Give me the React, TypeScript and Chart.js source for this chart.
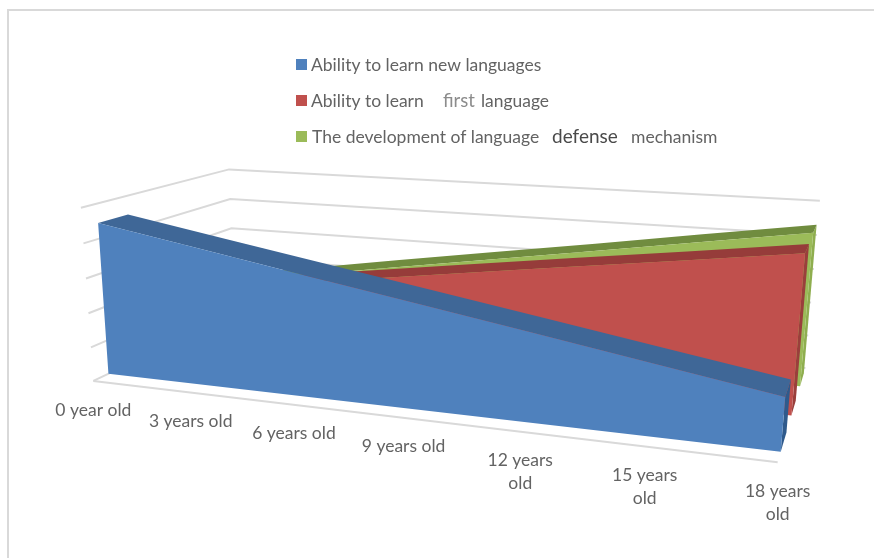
import React, { useEffect, useRef } from "react";
import { Chart, registerables } from "chart.js";

Chart.register(...registerables);

const categories: (string | string[])[] = [
  "0 year old", "3 years old", "6 years old", "9 years old",
  ["12 years", "old"], ["15 years", "old"], ["18 years", "old"],
];
const newLanguages = [4.45, 3.94, 3.43, 2.93, 2.42, 1.91, 1.4];
const firstLanguage = [1.85, 2.27, 2.68, 3.1, 3.52, 3.93, 4.35];
const defenseMechanism = [1.5, 1.98, 2.47, 2.95, 3.43, 3.92, 4.4];
const seriesNames = [
  "Ability to learn new languages",
  "Ability to learn first language",
  "The development of language defense mechanism",
];

const FONT = "Lato, Carlito, 'Open Sans', sans-serif";
const TEXT = "#636363";

// Picture position of the box corners: [u along x, v height, d depth, px, py]
const corners = [
  [0, 0, 0, 92, 379], [0, 1, 0, 82, 209],
  [0, 0, 1, 236, 316], [0, 1, 1, 228, 168],
  [1, 0, 1, 805, 367], [1, 1, 1, 820, 201],
  [1, 0, 0, 778, 463],
];

function solveCamera() {
  const rows: number[][] = [];
  for (const [u, v, d, x, y] of corners) {
    rows.push([u, v, d, 1, 0, 0, 0, 0, -x * u, -x * v, -x * d, x]);
    rows.push([0, 0, 0, 0, u, v, d, 1, -y * u, -y * v, -y * d, y]);
  }
  const n = 11;
  const m = Array.from({ length: n }, (_, i) =>
    Array.from({ length: n + 1 }, (_, j) =>
      rows.reduce((s, r) => s + r[i] * r[j], 0)));
  for (let c = 0; c < n; c++) {
    let p = c;
    for (let r = c + 1; r < n; r++) if (Math.abs(m[r][c]) > Math.abs(m[p][c])) p = r;
    [m[c], m[p]] = [m[p], m[c]];
    for (let r = 0; r < n; r++) {
      if (r === c) continue;
      const f = m[r][c] / m[c][c];
      for (let k = c; k <= n; k++) m[r][k] -= f * m[c][k];
    }
  }
  return m.map((row, i) => row[n] / row[i]);
}
const cam = solveCamera();
function project(u: number, v: number, d: number): [number, number] {
  const w = cam[8] * u + cam[9] * v + cam[10] * d + 1;
  return [
    (cam[0] * u + cam[1] * v + cam[2] * d + cam[3]) / w,
    (cam[4] * u + cam[5] * v + cam[6] * d + cam[7]) / w,
  ];
}

const depthBands = [[0.09, 0.27], [0.44, 0.6], [0.77, 0.93]];
const faceColors = [
  { front: "#4f81bd", top: "#3f6797", side: "#2f5a8c" },
  { front: "#c0504d", top: "#963c3a", side: "#9a3f3c" },
  { front: "#9bbb59", top: "#708c3f", side: "#8fae4f" },
];

const legendRows = [
  { color: "#4f81bd", y: 65, parts: [{ t: "Ability to learn new languages", x: 311, w: 232, c: TEXT, s: 17.5 }] },
  { color: "#c0504d", y: 101, parts: [
    { t: "Ability to learn", x: 311, w: 113, c: TEXT, s: 17.5 },
    { t: "first", x: 443, w: 32, c: "#8c8c8c", s: 18.5 },
    { t: "language", x: 481, w: 68, c: TEXT, s: 17.5 },
  ] },
  { color: "#9bbb59", y: 137, parts: [
    { t: "The development of language", x: 312, w: 228, c: TEXT, s: 17.5 },
    { t: "defense", x: 552, w: 66, c: "#4a4a4a", s: 19 },
    { t: "mechanism", x: 631, w: 87, c: TEXT, s: 17.5 },
  ] },
];

function poly(ctx: CanvasRenderingContext2D, pts: [number, number][], fill: string) {
  ctx.beginPath();
  pts.forEach(([x, y], i) => (i ? ctx.lineTo(x, y) : ctx.moveTo(x, y)));
  ctx.closePath();
  ctx.fillStyle = fill;
  ctx.fill();
}

const perspectivePlugin = {
  id: "perspective",
  beforeDatasetsDraw(chart: any) {
    const ctx: CanvasRenderingContext2D = chart.ctx;
    const xs = chart.scales.x;
    const ys = chart.scales.y;
    const U = (px: number) => (px - xs.left) / (xs.right - xs.left);
    const V = (py: number) => (ys.bottom - py) / (ys.bottom - ys.top);

    // frame
    ctx.save();
    ctx.strokeStyle = "#d9d9d9";
    ctx.lineWidth = 2;
    ctx.beginPath();
    ctx.moveTo(8, 558); ctx.lineTo(8, 10); ctx.lineTo(874, 10);
    ctx.stroke();

    // walls and floor, one gridline per y tick
    for (const tick of ys.ticks) {
      const v = V(ys.getPixelForValue(tick.value));
      const a = project(0, v, 0), b = project(0, v, 1), c = project(1, v, 1);
      ctx.beginPath();
      ctx.moveTo(a[0], a[1]); ctx.lineTo(b[0], b[1]); ctx.lineTo(c[0], c[1]);
      ctx.stroke();
    }
    const f0 = project(0, 0, 0), f1 = project(1, 0, 0);
    ctx.beginPath(); ctx.moveTo(f0[0], f0[1]); ctx.lineTo(f1[0], f1[1]); ctx.stroke();

    // areas, back to front
    for (let i = chart.data.datasets.length - 1; i >= 0; i--) {
      const meta = chart.getDatasetMeta(i);
      const [d0, d1] = depthBands[i];
      const col = faceColors[i];
      const pts = meta.data.map((el: any) => [U(el.x), V(el.y)]);
      const last = pts[pts.length - 1];
      poly(ctx, [project(1, 0, d0), project(1, 0, d1), project(1, last[1], d1), project(1, last[1], d0)], col.side);
      poly(ctx, [
        ...pts.map(([u, v]: number[]) => project(u, v, d1)),
        ...pts.slice().reverse().map(([u, v]: number[]) => project(u, v, d0)),
      ], col.top);
      poly(ctx, [
        project(pts[0][0], 0, d0),
        ...pts.map(([u, v]: number[]) => project(u, v, d0)),
        project(last[0], 0, d0),
      ], col.front);
    }

    // category labels under the floor's front edge
    ctx.fillStyle = TEXT;
    ctx.textAlign = "center";
    ctx.textBaseline = "middle";
    ctx.font = `17.5px ${FONT}`;
    chart.data.labels.forEach((label: string | string[], i: number) => {
      const [x, y] = project(U(xs.getPixelForValue(i)), 0, 0);
      const lines = Array.isArray(label) ? label : [label];
      lines.forEach((t, k) => ctx.fillText(t, x, y + 29 + k * 23));
    });

    // legend
    ctx.textAlign = "left";
    for (const row of legendRows) {
      ctx.fillStyle = row.color;
      ctx.fillRect(296, row.y - 6, 11, 11);
      for (const p of row.parts) {
        ctx.fillStyle = p.c;
        ctx.font = `${p.s}px ${FONT}`;
        ctx.fillText(p.t, p.x, row.y, p.w);
      }
    }
    ctx.restore();
  },
};

export default function App() {
  const ref = useRef<HTMLCanvasElement>(null);
  useEffect(() => {
    const chart = new Chart(ref.current!, {
      type: "line",
      data: {
        labels: categories as any,
        datasets: [newLanguages, firstLanguage, defenseMechanism].map((data, i) => ({
          label: seriesNames[i],
          data,
          showLine: false,
          pointRadius: 0,
          backgroundColor: faceColors[i].front,
          borderColor: faceColors[i].front,
        })),
      },
      options: {
        animation: false,
        responsive: false,
        devicePixelRatio: 1,
        layout: { padding: 0 },
        plugins: { legend: { display: false }, tooltip: { enabled: false } },
        scales: {
          x: { display: false, offset: false },
          y: { display: false, min: 0, max: 5, ticks: { stepSize: 1 } },
        },
      },
      plugins: [perspectivePlugin],
    } as any);
    return () => chart.destroy();
  }, []);
  return (
    <canvas
      ref={ref}
      width={874}
      height={558}
      style={{ position: "fixed", left: 0, top: 0, width: 874, height: 558, background: "#fff" }}
    />
  );
}
